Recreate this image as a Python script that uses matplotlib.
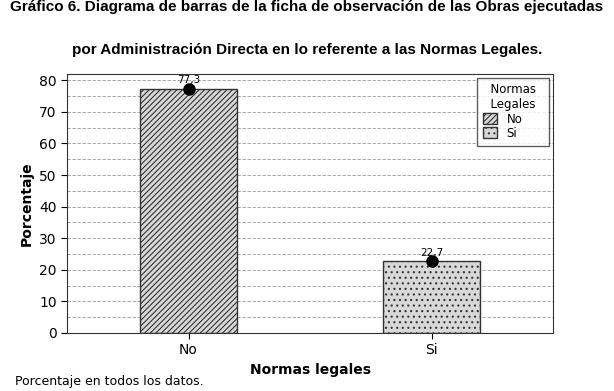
import matplotlib
matplotlib.use("Agg")
import matplotlib.pyplot as plt
from matplotlib.patches import Patch
from matplotlib import font_manager

categorias = ["No", "Si"]
porcentajes = [77.3, 22.7]
etiquetas = ["77,3", "22,7"]
yticks = [0, 10, 20, 30, 40, 50, 60, 70, 80]

plt.rcParams['font.family'] = ['DejaVu Sans']
plt.rcParams['hatch.linewidth'] = 0.8

# fuente estrecha para el titulo si existe
nombres = {f.name for f in font_manager.fontManager.ttflist}
titulo_font = 'Liberation Sans Narrow' if 'Liberation Sans Narrow' in nombres else 'Liberation Sans'
titulo_size = 13 if titulo_font == 'Liberation Sans Narrow' else 11

fig = plt.figure(figsize=(6.14, 3.91), dpi=100)
ax = fig.add_axes([67/614, 1-333/391, (553-67)/614, (333-74)/391])

x = list(range(len(categorias)))
hatches = ['//////', '...']
for i in x:
    ax.bar(x[i], porcentajes[i], width=0.4, color='#d8d8d8', edgecolor='#333333',
           hatch=hatches[i], linewidth=1, zorder=2)
    ax.plot(x[i], porcentajes[i], 'o', color='black', markersize=8, zorder=3)
    ax.text(x[i], porcentajes[i] + 1.2, etiquetas[i], ha='center', va='bottom',
            fontsize=7.5, zorder=3)

for y in range(5, 82, 5):
    ax.axhline(y, color='#999999', linestyle=(0, (4, 2)), linewidth=0.6, zorder=1)

ax.set_xlim(-0.5, 1.5)
ax.set_ylim(0, 82)
ax.set_yticks(yticks)
ax.set_xticks(x)
ax.set_xticklabels(categorias, fontsize=10)
ax.tick_params(axis='y', labelsize=10, length=4)
ax.tick_params(axis='x', length=4)
ax.set_xlabel("Normas legales", fontsize=10, fontweight='bold', labelpad=4)
ax.set_ylabel("Porcentaje", fontsize=10, fontweight='bold', labelpad=4)
for s in ax.spines.values():
    s.set_color('#333333')

handles = [Patch(facecolor='#d8d8d8', edgecolor='#333333', hatch=h) for h in hatches]
leg = ax.legend(handles, categorias, title="  Normas  \n  Legales  ", loc='upper right',
                fontsize=8.5, title_fontsize=8.5, frameon=True, fancybox=False,
                edgecolor='#333333', handlelength=1.2, handleheight=1.0,
                borderaxespad=0.3, labelspacing=0.1, borderpad=0.5)
leg._legend_box.align = "left"
leg.get_frame().set_linewidth(1.0)

fig.text(0.5, 1.0, "Gráfico 6. Diagrama de barras de la ficha de observación de las Obras ejecutadas",
         ha='center', va='top', fontsize=titulo_size, fontweight='bold',
         family=titulo_font)
fig.text(0.5, 1-50/391, "por Administración Directa en lo referente a las Normas Legales.",
         ha='center', va='center', fontsize=titulo_size, fontweight='bold',
         family=titulo_font)
fig.text(15/614, 1-381/391, "Porcentaje en todos los datos.", ha='left', va='center',
         fontsize=9)

fig.savefig("out.png", dpi=100)
